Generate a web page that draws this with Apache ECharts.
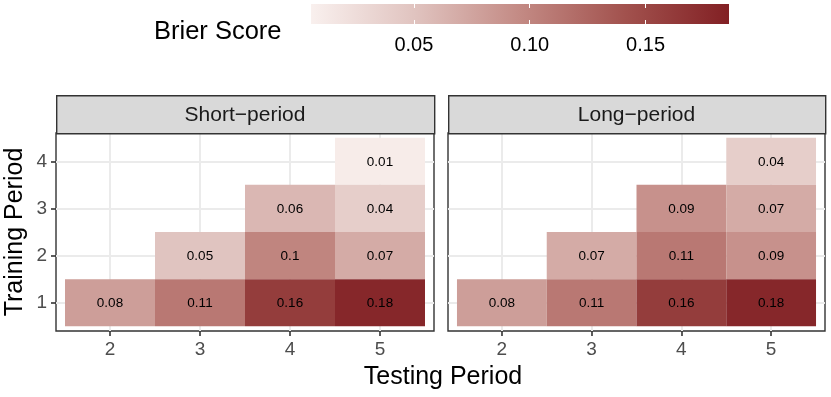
<!DOCTYPE html>
<html><head><meta charset="utf-8">
<script src="https://cdn.jsdelivr.net/npm/echarts@6/dist/echarts.min.js"></script>
<style>html,body{margin:0;padding:0;background:#fff}#c{width:831px;height:397px}</style>
</head><body><div id="c"></div>
<script>
// ---- data ----
const testingPeriods = [2, 3, 4, 5];
const trainingPeriods = [1, 2, 3, 4];
const panelNames = ['Short\u2212period', 'Long\u2212period'];
const shortTesting  = [5, 4, 5, 3, 4, 5, 2, 3, 4, 5];
const shortTraining = [4, 3, 3, 2, 2, 2, 1, 1, 1, 1];
const shortBrier    = [0.01, 0.06, 0.04, 0.05, 0.10, 0.07, 0.08, 0.11, 0.16, 0.18];
const longTesting   = [5, 4, 5, 3, 4, 5, 2, 3, 4, 5];
const longTraining  = [4, 3, 3, 2, 2, 2, 1, 1, 1, 1];
const longBrier     = [0.04, 0.09, 0.07, 0.07, 0.11, 0.09, 0.08, 0.11, 0.16, 0.18];
const legendTicks = [0.05, 0.10, 0.15];
const scaleLimits = [0.0056, 0.186];
const palette = ['#F9F0EE', '#E0C3BF', '#C38A84', '#A2524E', '#822024'];

// ---- layout ----
const FONT = '"Liberation Sans", Arial, Helvetica, sans-serif';
const panels = [
  {left: 56, width: 378},
  {left: 448, width: 377}
];
const stripTop = 95, plotTop = 133, plotHeight = 198;
const bar = {left: 311, top: 4, width: 418, height: 20};

function fmt(v) { return String(Math.round(v * 100) / 100); }

function renderTile(params, api) {
  const x = api.value(0), y = api.value(1), v = api.value(2);
  const p0 = api.coord([x - 0.5, y + 0.5]);
  const p1 = api.coord([x + 0.5, y - 0.5]);
  return {
    type: 'group',
    children: [
      {type: 'rect', shape: {x: p0[0], y: p0[1], width: p1[0] - p0[0], height: p1[1] - p0[1]},
       style: {fill: api.visual('color')}},
      {type: 'text', x: (p0[0] + p1[0]) / 2, y: (p0[1] + p1[1]) / 2 + 0.5,
       style: {text: fmt(v), align: 'center', verticalAlign: 'middle', fill: '#000',
               fontSize: 13.5, fontFamily: FONT}}
    ]
  };
}

function renderBar(params, api) {
  const p0 = api.coord([api.value(0), 1]);
  const p1 = api.coord([api.value(1), 0]);
  return {
    type: 'rect',
    shape: {x: p0[0], y: p0[1], width: p1[0] - p0[0], height: p1[1] - p0[1]},
    style: {fill: {type: 'linear', x: 0, y: 0, x2: 1, y2: 0,
      colorStops: palette.map((c, i) => ({offset: i / (palette.length - 1), color: c}))}}
  };
}

const zip = (a, b, c) => a.map((v, i) => [v, b[i], c[i]]);

const grids = panels.map(p => ({
  left: p.left, top: plotTop, width: p.width, height: plotHeight,
  show: true, borderColor: '#333333', borderWidth: 1.4, backgroundColor: '#fff', containLabel: false
}));
grids.push({left: bar.left, top: bar.top, width: bar.width, height: bar.height, show: false});

const panelX = panels.map((p, i) => ({
  type: 'value', gridIndex: i, min: 1.4, max: 5.6,
  axisLine: {show: false},
  axisTick: {show: true, length: 5, customValues: testingPeriods, lineStyle: {color: '#333333', width: 1.6}},
  axisLabel: {show: true, customValues: testingPeriods, color: '#4D4D4D', fontSize: 19, fontFamily: FONT, margin: 9},
  splitLine: {show: true, lineStyle: {color: '#EBEBEB', width: 2}}
}));
const panelY = panels.map((p, i) => ({
  type: 'value', gridIndex: i, min: 0.4, max: 4.6,
  axisLine: {show: false},
  axisTick: {show: i === 0, length: 5, customValues: trainingPeriods, lineStyle: {color: '#333333', width: 1.6}},
  axisLabel: {show: i === 0, customValues: trainingPeriods, color: '#4D4D4D', fontSize: 19, fontFamily: FONT, margin: 9},
  splitLine: {show: true, lineStyle: {color: '#EBEBEB', width: 2}}
}));

const legendAxes = [
  {type: 'value', gridIndex: 2, position: 'bottom', min: scaleLimits[0], max: scaleLimits[1], z: 10,
   axisLine: {show: false},
   axisTick: {show: true, inside: true, length: 4, customValues: legendTicks, lineStyle: {color: '#fff', width: 1}},
   axisLabel: {show: true, customValues: legendTicks, formatter: v => v.toFixed(2), color: '#000', fontSize: 20, fontFamily: FONT, margin: 11},
   splitLine: {show: false}},
  {type: 'value', gridIndex: 2, position: 'top', min: scaleLimits[0], max: scaleLimits[1], z: 10,
   axisLine: {show: false},
   axisTick: {show: true, inside: true, length: 4, customValues: legendTicks, lineStyle: {color: '#fff', width: 1}},
   axisLabel: {show: false},
   splitLine: {show: false}}
];

const graphics = [];
panels.forEach((p, i) => {
  graphics.push({type: 'rect', left: p.left, top: stripTop, z: 5,
    shape: {x: 0, y: 0, width: p.width, height: plotTop - stripTop},
    style: {fill: '#D9D9D9', stroke: '#333333', lineWidth: 1.4}});
  graphics.push({type: 'text', x: p.left + p.width / 2, y: (stripTop + plotTop) / 2 + 1, z: 6,
    style: {text: panelNames[i], align: 'center', verticalAlign: 'middle', fill: '#1A1A1A', fontSize: 21, fontFamily: FONT}});
});
graphics.push({type: 'text', x: 443, y: 377, z: 6,
  style: {text: 'Testing Period', align: 'center', verticalAlign: 'middle', fill: '#000', fontSize: 25, fontFamily: FONT}});
graphics.push({type: 'text', x: 15, y: 232, rotation: Math.PI / 2, z: 6,
  style: {text: 'Training Period', align: 'center', verticalAlign: 'middle', fill: '#000', fontSize: 25, fontFamily: FONT}});
graphics.push({type: 'text', x: 154, y: 32, z: 6,
  style: {text: 'Brier Score', align: 'left', verticalAlign: 'middle', fill: '#000', fontSize: 25.5, fontFamily: FONT}});

const chart = echarts.init(document.getElementById('c'), null, {renderer: 'canvas'});
chart.setOption({
  animation: false,
  backgroundColor: '#fff',
  grid: grids,
  xAxis: panelX.concat(legendAxes),
  yAxis: panelY.concat([{type: 'value', gridIndex: 2, min: 0, max: 1, show: false}]),
  visualMap: {type: 'continuous', show: false, min: scaleLimits[0], max: scaleLimits[1],
    dimension: 2, seriesIndex: [0, 1], inRange: {color: palette}},
  graphic: graphics,
  series: [
    {type: 'custom', xAxisIndex: 0, yAxisIndex: 0, renderItem: renderTile,
     data: zip(shortTesting, shortTraining, shortBrier), encode: {x: 0, y: 1}},
    {type: 'custom', xAxisIndex: 1, yAxisIndex: 1, renderItem: renderTile,
     data: zip(longTesting, longTraining, longBrier), encode: {x: 0, y: 1}},
    {type: 'custom', xAxisIndex: 2, yAxisIndex: 2, renderItem: renderBar,
     data: [scaleLimits], encode: {x: [0, 1]}}
  ]
});
</script></body></html>
